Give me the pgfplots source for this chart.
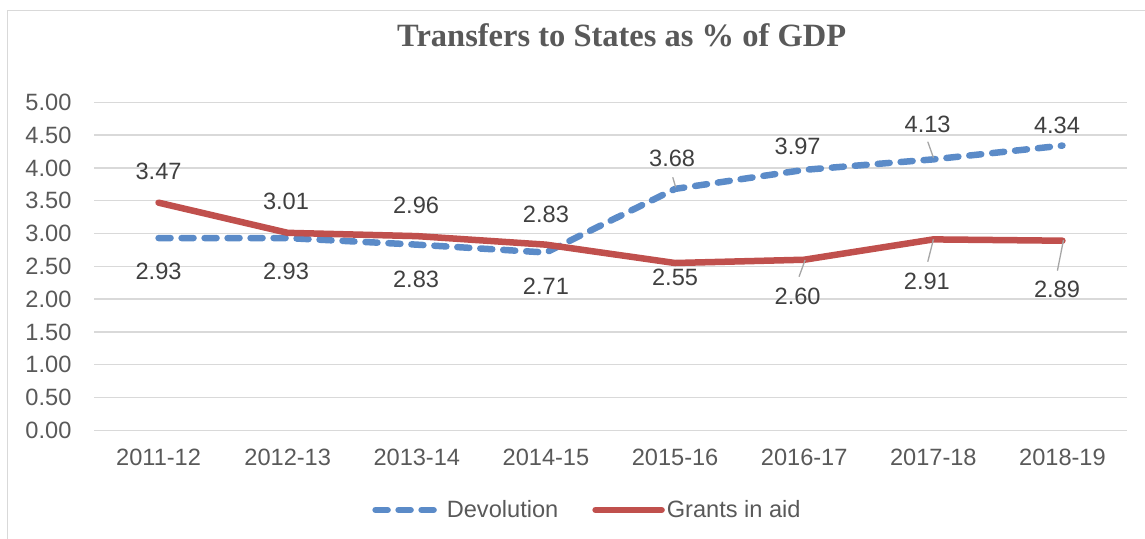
\documentclass[border=0pt]{standalone}
\usepackage{pgfplots}
\pgfplotsset{compat=1.18}
\usepackage{fontspec}
\setmainfont{Liberation Sans}
\newfontfamily\titlefont{Liberation Serif}
\definecolor{devblue}{HTML}{5B8BC8}
\definecolor{grantred}{HTML}{C0504D}
\definecolor{gridgray}{HTML}{D9D9D9}
\definecolor{ticktext}{HTML}{595959}
\definecolor{labeltext}{HTML}{404040}
\definecolor{leadergray}{HTML}{A6A6A6}
\newcommand{\chartfont}{\fontsize{23.6bp}{28bp}\selectfont}
\newcommand{\lbl}[3]{\node[font=\chartfont, text=labeltext, inner sep=0pt] at (axis cs:#1,#2) {#3};}
\newcommand{\leader}[4]{\draw[leadergray, line width=1.3bp] (axis cs:#1,#2) -- (axis cs:#3,#4);}
\begin{document}
\begin{tikzpicture}[x=1bp,y=1bp]
\path[use as bounding box] (0,0) rectangle (1145,539);
\draw[gridgray, line width=1.3bp] (7.5,0) -- (7.5,528.3) -- (1145,528.3);
\node[anchor=base, text=ticktext, inner sep=0pt, font=\titlefont\bfseries\fontsize{32.5bp}{38bp}\selectfont] at (621.7,492.3) {Transfers to States as \% of GDP};
\begin{axis}[
  at={(94bp,108.7bp)}, anchor=south west,
  scale only axis, width=1033bp, height=328bp,
  xmin=-0.5, xmax=7.5, ymin=0, ymax=5,
  axis line style={draw=none},
  tick style={draw=none},
  major tick length=0pt,
  ymajorgrids,
  grid style={gridgray, line width=1.3bp},
  ytick={0,0.5,1,1.5,2,2.5,3,3.5,4,4.5,5},
  yticklabel style={font=\chartfont, text=ticktext, inner sep=0pt, anchor=east, xshift=-22.4bp},
  /pgf/number format/.cd, fixed, fixed zerofill, precision=2, assume math mode=true,
  /pgfplots/.cd,
  xtick={0,1,2,3,4,5,6,7},
  xticklabels={2011-12,2012-13,2013-14,2014-15,2015-16,2016-17,2017-18,2018-19},
  xticklabel style={font=\chartfont, text=ticktext, inner sep=0pt, anchor=north, yshift=-18.7bp},
  clip=false,
  legend style={at={(0.4777,-0.243)}, anchor=center, draw=none, fill=none,
    font=\chartfont, text=ticktext, legend columns=2,
    /tikz/every even column/.append style={column sep=32bp}},
  legend cell align=left,
  legend image code/.code={\draw[#1] (0bp,0bp) -- (66bp,0bp);},
]
\addplot[devblue, line width=6.5bp, line cap=round, line join=round, dash pattern=on 12bp off 11bp] coordinates {
(0,2.93) (1,2.93) (2,2.83) (3,2.71) (4,3.68) (5,3.97) (6,4.13) (7,4.34)};
\addlegendentry{Devolution}
\addplot[grantred, line width=6.5bp, line cap=round, line join=round] coordinates {
(0,3.47) (1,3.01) (2,2.96) (3,2.83) (4,2.55) (5,2.60) (6,2.91) (7,2.89)};
\addlegendentry{Grants in aid}
% leader lines
\leader{3.982}{3.857}{4.005}{3.704}
\leader{5.957}{4.399}{6.001}{4.155}
\leader{5.007}{2.596}{4.960}{2.341}
\leader{6.001}{2.912}{5.957}{2.570}
\leader{7.008}{2.901}{6.961}{2.433}
% data labels: Devolution
\lbl{0}{2.418}{2.93}
\lbl{0.987}{2.418}{2.93}
\lbl{1.994}{2.306}{2.83}
\lbl{3.0}{2.189}{2.71}
\lbl{3.977}{4.146}{3.68}
\lbl{4.949}{4.323}{3.97}
\lbl{5.956}{4.659}{4.13}
\lbl{6.958}{4.654}{4.34}
% data labels: Grants in aid
\lbl{0}{3.945}{3.47}
\lbl{0.987}{3.485}{3.01}
\lbl{1.994}{3.434}{2.96}
\lbl{3.0}{3.293}{2.83}
\lbl{4.0}{2.329}{2.55}
\lbl{4.949}{2.047}{2.60}
\lbl{5.95}{2.271}{2.91}
\lbl{6.958}{2.154}{2.89}
\end{axis}
\end{tikzpicture}
\end{document}
